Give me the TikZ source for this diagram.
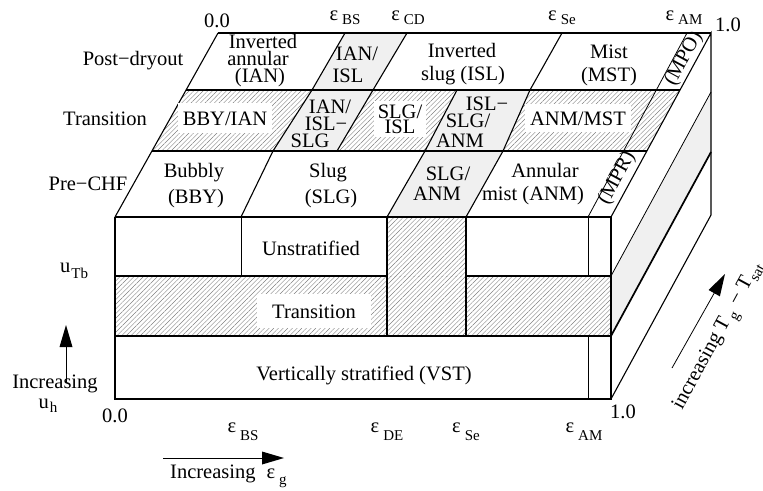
\documentclass[tikz,border=0pt]{standalone}
\usepackage{fontspec}
\setmainfont{Liberation Serif}
\usetikzlibrary{patterns.meta}
% lowered subscript in a smaller size
\newcommand{\lowsub}[2]{\raisebox{-#1}{\fontsize{15}{15}\selectfont #2}}
% void-fraction symbol with its subscript
\newcommand{\epsl}[2]{ε\hspace{4pt}\lowsub{#1}{#2}}
\begin{document}
\begin{tikzpicture}[x=1pt,y=-1pt,
  txt/.style={font=\fontsize{20.5}{21}\selectfont, inner sep=0pt, anchor=base},
  boxed/.style={txt, fill=white, inner xsep=5pt, inner ysep=7pt},
  hatched/.style={pattern={Lines[angle=45,distance=3.3pt,line width=0.4pt]}, pattern color=black!50},
  shaded/.style={fill=gray!12},
  edge/.style={line width=1.1pt},
  band/.style={line width=1.7pt},
  fine/.style={line width=0.8pt},
  stem/.style={line width=0.8pt, shorten >=12pt},
  head/.style={fill=black},
  slant/.style={txt, anchor=center, rotate=61.5},
]
\useasboundingbox (0,0) rectangle (763,490);

% ---------- fills ----------
% front face: transition band and the SLG/ANM column
\fill[hatched] (115,276) rectangle (611,336);
\fill[hatched] (387,217) rectangle (466,276);
% right face: transition band seen from the side
\fill[shaded] (611,276) -- (711,92) -- (711,152) -- (611,336) -- cycle;
% top face, pre-CHF band
\fill[shaded] (387,217) -- (466,217) -- (503,151) -- (425,151) -- cycle;
% top face, transition band
\fill[hatched] (152,151) -- (273,151) -- (312,90) -- (186,90) -- cycle;
\fill[shaded]  (273,151) -- (337,151) -- (373,90) -- (312,90) -- cycle;
\fill[hatched] (337,151) -- (425,151) -- (457,90) -- (373,90) -- cycle;
\fill[shaded]  (425,151) -- (503,151) -- (530,90) -- (457,90) -- cycle;
\fill[hatched] (503,151) -- (647,151) -- (680,90) -- (530,90) -- cycle;
% top face, post-dryout band
\fill[shaded] (312,90) -- (373,90) -- (407,33) -- (345,33) -- cycle;

% ---------- front face lines ----------
\draw[edge] (115,217) -- (115,399) -- (611,399) -- (611,217);
\draw[band] (115,217) -- (611,217);
\draw[band] (115,276) -- (387,276);
\draw[band] (466,276) -- (611,276);
\draw[band] (115,336) -- (611,336);
\draw[edge] (387,217) -- (387,336) -- (466,336) -- (466,217);
\draw[fine] (241,217) -- (241,276);
\draw[fine] (588,217) -- (588,276);
\draw[fine] (588,336) -- (588,399);

% ---------- right face lines ----------
\draw[edge] (611,217) -- (711,33) -- (711,215) -- (611,399);
\draw[fine] (611,276) -- (711,92);
\draw[band] (611,336) -- (711,152);

% ---------- top face lines ----------
\draw[edge] (115,217) -- (218,33);
\draw[band] (218,33) -- (711,33);
\draw[band] (152,151) -- (647,151);
\draw[band] (186,90) -- (680,90);
% pre-CHF dividers
\draw[edge] (241,217) -- (273,151);
\draw[edge] (387,217) -- (425,151);
\draw[edge] (466,217) -- (503,151);
% transition dividers
\draw[edge] (273,151) -- (312,90);
\draw[edge] (337,151) -- (373,90);
\draw[edge] (425,151) -- (457,90);
\draw[edge] (503,151) -- (530,90);
% post-dryout dividers
\draw[edge] (312,90) -- (345,33);
\draw[edge] (373,90) -- (407,33);
\draw[edge] (530,90) -- (562,33);
% mist boundary through all bands
\draw[fine] (588,217) -- (687,33);

% ---------- axis values ----------
\node[txt] (t00) at (217,27) {0.0};
\node[txt] (tbs) at (345,20) {\epsl{4pt}{BS}};
\node[txt] (tcd) at (408,20) {\epsl{4pt}{CD}};
\node[txt] (tse) at (562,20) {\epsl{4pt}{Se}};
\node[txt] (tam) at (684,20) {\epsl{4pt}{AM}};
\node[txt] (t10) at (728,31) {1.0};

\node[txt] (b00) at (115,422) {0.0};
\node[txt] (bbs) at (243,432) {\epsl{8pt}{BS}};
\node[txt] (bde) at (387,432) {\epsl{8pt}{DE}};
\node[txt] (bse) at (466,432) {\epsl{8pt}{Se}};
\node[txt] (bam) at (584,432) {\epsl{8pt}{AM}};
\node[txt] (b10) at (623,418) {1.0};

% ---------- band names ----------
\node[txt] (lpost) at (133,65) {Post−dryout};
\node[txt] (ltran) at (105,125) {Transition};
\node[txt] (lpre)  at (88,190)  {Pre−CHF};
\node[txt, anchor=base west] (lutb) at (60,272) {u\hspace{1pt}\lowsub{6pt}{Tb}};

% ---------- axis arrows ----------
\coordinate (uhA) at (66,382);
\coordinate (uhB) at (66,325);
\draw[stem] (uhA) -- (uhB);
\fill[head, shift={(uhB)}, rotate=90] (0,0) -- (-22,6.5) -- (-22,-6.5) -- cycle;
\node[txt] (luh1) at (55,388) {Increasing};
\node[txt] (luh2) at (48,408) {u\hspace{1pt}\lowsub{4pt}{h}};

\coordinate (egA) at (163,458);
\coordinate (egB) at (284,458);
\draw[stem] (egA) -- (egB);
\fill[head, shift={(egB)}] (0,0) -- (-22,6.5) -- (-22,-6.5) -- cycle;
\node[txt, anchor=base west] (leg) at (170,478) {Increasing\hspace{11pt}ε\hspace{4pt}\lowsub{6pt}{g}};

\coordinate (tgA) at (672,368);
\coordinate (tgB) at (725,274);
\draw[stem] (tgA) -- (tgB);
\fill[head, shift={(tgB)}, rotate=60.6] (0,0) -- (-22,6.5) -- (-22,-6.5) -- cycle;
\node[txt, anchor=base west, rotate=61.5] (ltg) at (682,411)
  {increasing T\hspace{3pt}\lowsub{5pt}{g}\hspace{6pt}−\hspace{6pt}T\lowsub{5pt}{sat}};

% ---------- front face regions ----------
\node[txt] (unst) at (311,255) {Unstratified};
\node[boxed, inner xsep=15pt, inner ysep=10pt] (trns) at (314,318) {Transition};
\node[txt] (vst) at (364,380) {Vertically stratified (VST)};

% ---------- post-dryout regions ----------
\node[txt] (ian1) at (263,48) {Inverted};
\node[txt] (ian2) at (258,65) {annular};
\node[txt] (ian3) at (260,82) {(IAN)};
\node[txt] (ii1) at (357,60) {IAN/};
\node[txt] (ii2) at (348,82) {ISL};
\node[txt] (isl1) at (462,57) {Inverted};
\node[txt] (isl2) at (463,80) {slug (ISL)};
\node[txt] (mst1) at (609,58) {Mist};
\node[txt] (mst2) at (609,81) {(MST)};
\node[slant] (mpo) at (684,59) {(MPO)};

% ---------- transition regions ----------
\node[boxed, inner ysep=8pt] (bi) at (225,125) {BBY/IAN};
\node[txt] (iis1) at (330,113) {IAN/};
\node[txt] (iis2) at (326,130) {ISL−};
\node[txt] (iis3) at (310,147) {SLG};
\node[boxed, anchor=center, align=center, font=\fontsize{20.5}{15}\selectfont, inner xsep=4pt, inner ysep=4pt] (si) at (400,119) {SLG/\\ISL};
\node[txt] (ssa1) at (487,110) {ISL−};
\node[txt] (ssa2) at (468,127) {SLG/};
\node[txt] (ssa3) at (460,147) {ANM};
\node[boxed] (am) at (578,125) {ANM/MST};

% ---------- pre-CHF regions ----------
\node[txt] (bby1) at (194,177) {Bubbly};
\node[txt] (bby2) at (196,203) {(BBY)};
\node[txt] (slg1) at (328,177) {Slug};
\node[txt] (slg2) at (331,203) {(SLG)};
\node[txt] (sa1) at (448,180) {SLG/};
\node[txt] (sa2) at (437,200) {ANM};
\node[txt] (anm1) at (545,177) {Annular};
\node[txt] (anm2) at (533,200) {mist (ANM)};
\node[slant] (mpr) at (617,178) {(MPR)};
\end{tikzpicture}
\end{document}
